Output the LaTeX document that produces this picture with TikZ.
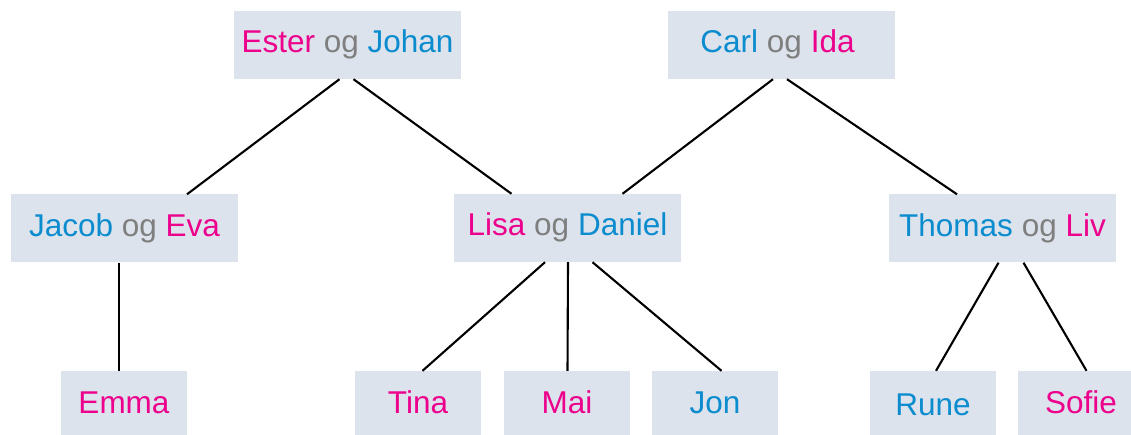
\documentclass[tikz,border=0pt]{standalone}
\usepackage{fontspec}
\setmainfont{Liberation Sans}
\usepackage{xcolor}
\definecolor{rosa}{HTML}{EC008C}
\definecolor{blaa}{HTML}{0A8CCE}
\definecolor{graa}{HTML}{7F7F7F}
\definecolor{boks}{HTML}{DCE3EC}
\newcommand{\hun}[1]{\textcolor{rosa}{#1}}
\newcommand{\han}[1]{\textcolor{blaa}{#1}}
\newcommand{\og}{\textcolor{graa}{og}}
\tikzset{
	par/.style={fill=boks, minimum width=227pt, minimum height=68pt, inner sep=0pt,
		text height=22pt, text depth=6pt, font=\fontsize{31.5}{36}\selectfont},
	barn/.style={par, minimum width=126pt},
	linje/.style={line width=2.1pt}
}

\begin{document}
\begin{tikzpicture}[x=1pt, y=-1pt]
			\useasboundingbox (0,0) rectangle (1131,435);
			% foreldre
			\node[par] (ej) at (347.5,45) {\hun{Ester} \og{} \han{Johan}};
			\node[par] (ci) at (781.5,45) {\han{Carl} \og{} \hun{Ida}\kern8pt};
			% par
			\node[par] (je) at (124.5,228.5) {\han{Jacob} \og{} \hun{Eva}};
			\node[par] (ld) at (567.5,228) {\hun{Lisa} \og{} \han{Daniel}};
			\node[par] (tl) at (1002.5,228.5) {\han{Thomas} \og{} \hun{Liv}};
			% barn
			\node[barn] (emma) at (124,405) {\hun{Emma}};
			\node[barn] (tina) at (418,405) {\hun{Tina}};
			\node[barn] (mai) at (567,405) {\hun{Mai}};
			\node[barn] (jon) at (715,405) {\han{Jon}};
			\node[barn] (rune) at (933,405) {\raisebox{-2pt}{\han{Rune}}};
			\node[barn] (sofie) at (1081,405) {\hun{Sofie}};
			% linjer
			\draw[linje] ([xshift=-8pt]ej.south) -- ([xshift=62.5pt]je.north);
			\draw[linje] ([xshift=6pt]ej.south) -- ([xshift=-56pt]ld.north);
			\draw[linje] ([xshift=-8.5pt]ci.south) -- ([xshift=55pt]ld.north);
			\draw[linje] ([xshift=5.5pt]ci.south) -- ([xshift=-45.5pt]tl.north);
			\draw[linje] ([xshift=-5.5pt]je.south) -- ([xshift=-5pt]emma.north);
			\draw[linje] ([xshift=-22.5pt]ld.south) -- ([xshift=4.5pt]tina.north);
			\draw[linje] ([xshift=0.5pt]ld.south) -- ([xshift=0.5pt]mai.north);
			\draw[linje] ([xshift=25pt]ld.south) -- ([xshift=6.5pt]jon.north);
			\draw[linje] ([xshift=-4pt]tl.south) -- ([xshift=3pt]rune.north);
			\draw[linje] ([xshift=21pt]tl.south) -- ([xshift=5.5pt]sofie.north);
\end{tikzpicture}
\end{document}
